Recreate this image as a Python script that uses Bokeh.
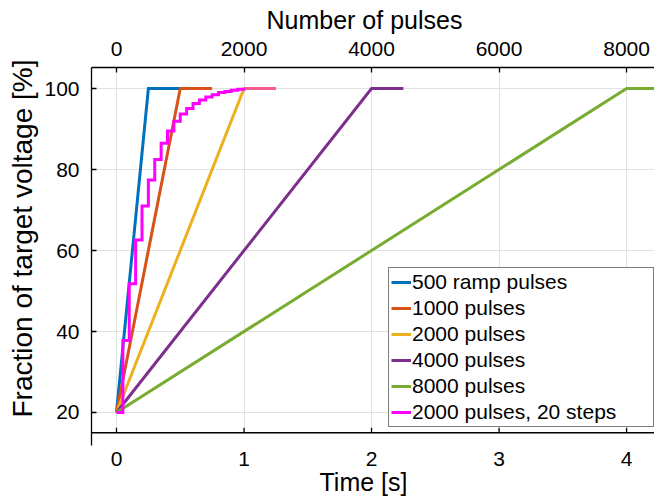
from bokeh.embed import file_html
from bokeh.models import (BoxAnnotation, FixedTicker, Legend, LegendItem,
                          LinearAxis, Range1d, Span, Title)
from bokeh.plotting import figure
from bokeh.resources import INLINE

# --- data -------------------------------------------------------------------
pulses_per_second = 2000

# linear ramps from 20 % to 100 %, then a 0.25 s hold at the target
t_500 = [0.0, 0.25, 0.50]
v_500 = [20, 100, 100]
t_1000 = [0.0, 0.50, 0.75]
v_1000 = [20, 100, 100]
t_2000 = [0.0, 1.00, 1.25]
v_2000 = [20, 100, 100]
t_4000 = [0.0, 2.00, 2.25]
v_4000 = [20, 100, 100]
t_8000 = [0.0, 4.00, 4.25]
v_8000 = [20, 100, 100]

# 2000 pulses delivered in 20 voltage steps
step_t = [0.00, 0.05, 0.10, 0.15, 0.20, 0.25, 0.30, 0.35, 0.40, 0.45, 0.50,
          0.55, 0.60, 0.65, 0.70, 0.75, 0.80, 0.85, 0.90, 0.95, 1.00]
step_v = [20, 37.8, 51.8, 62.6, 71.0, 77.4, 82.5, 86.5, 89.5, 91.9, 93.7,
          95.1, 96.3, 97.2, 97.9, 98.5, 99.0, 99.3, 99.6, 99.8, 100]
step_hold_t = [1.00, 1.25]
step_hold_v = [100, 100]

labels = ["500 ramp pulses", "1000 pulses", "2000 pulses", "4000 pulses",
          "8000 pulses", "2000 pulses, 20 steps"]
colors = ["#0072BD", "#D95319", "#EDB120", "#7E2F8E", "#77AC30", "#FF00FF"]

time_ticks = [0, 1, 2, 3, 4]
pulse_ticks = [0, 2000, 4000, 6000, 8000]
level_ticks = [20, 40, 60, 80, 100]

FONT = "Liberation Sans"
x_lo, x_hi = -0.196, 4.219
y_lo, y_hi = 11.85, 105.2
x_axis_level = 15

# --- figure -----------------------------------------------------------------
p = figure(width=654, height=502, output_backend="svg", toolbar_location=None,
           x_range=Range1d(x_lo, x_hi), y_range=Range1d(y_lo, y_hi),
           min_border_left=90, min_border_right=0, min_border_top=67,
           min_border_bottom=57)
p.outline_line_color = None
p.background_fill_color = "white"
p.border_fill_color = "white"

bottom = p.xaxis[0]
left = p.yaxis[0]

p.extra_x_ranges = {"pulses": Range1d(x_lo * pulses_per_second,
                                      x_hi * pulses_per_second)}
top_axis = LinearAxis(x_range_name="pulses")
p.add_layout(top_axis, "above")

for ax in (left, top_axis):
    ax.major_tick_in = 5
    ax.major_tick_out = 0
    ax.minor_tick_line_color = None
    ax.axis_line_width = 1.3
    ax.axis_line_color = "black"
    ax.major_tick_line_color = "black"
    ax.major_tick_line_width = 1.3
    ax.major_label_standoff = 12

left.ticker = FixedTicker(ticks=level_ticks)
top_axis.ticker = FixedTicker(ticks=pulse_ticks)

bottom.ticker = FixedTicker(ticks=time_ticks)
bottom.axis_line_color = None
bottom.major_tick_line_color = None
bottom.minor_tick_line_color = None
bottom.major_label_standoff = 0

for ax in (left, top_axis, bottom):
    ax.major_label_text_font = FONT
    ax.major_label_text_font_size = "21px"
    ax.major_label_text_color = "black"

p.xgrid.ticker = FixedTicker(ticks=time_ticks)
p.ygrid.ticker = FixedTicker(ticks=level_ticks)
for g in (p.xgrid[0], p.ygrid[0]):
    g.grid_line_color = "#e2e2e2"
    g.grid_line_width = 1

# the time axis sits a little above the bottom of the frame
p.add_layout(BoxAnnotation(top=x_axis_level, fill_color="white", fill_alpha=1,
                           line_color=None, level="underlay"))
p.add_layout(Span(location=x_axis_level, dimension="width", line_color="black",
                  line_width=1.3))
p.segment(x0=time_ticks, y0=[x_axis_level] * len(time_ticks),
          x1=time_ticks, y1=[x_axis_level + 1.25] * len(time_ticks),
          line_color="black", line_width=1.3)

# --- series -----------------------------------------------------------------
series = [(t_500, v_500), (t_1000, v_1000), (t_2000, v_2000),
          (t_4000, v_4000), (t_8000, v_8000)]
renderers = []
for (t, v), c in zip(series, colors[:5]):
    renderers.append(p.line(t, v, line_color=c, line_width=3,
                            line_join="miter"))

renderers.append(p.step(step_t, step_v, mode="after", line_color=colors[5],
                        line_width=3, line_join="miter"))
p.line(step_hold_t, step_hold_v, line_color=colors[5], line_width=3,
       line_alpha=0.5)

legend = Legend(items=[LegendItem(label=l, renderers=[r])
                       for l, r in zip(labels, renderers)],
                location=(297, 18))
legend.label_text_font = FONT
legend.label_text_font_size = "21px"
legend.label_text_color = "black"
legend.glyph_width = 20
legend.glyph_height = 22
legend.label_height = 22
legend.label_standoff = 1
legend.label_width = 239
legend.spacing = 2
legend.padding = 2
legend.margin = 0
legend.border_line_color = "black"
legend.border_line_width = 1
legend.background_fill_color = "white"
legend.background_fill_alpha = 1
p.add_layout(legend)

# --- axis titles --------------------------------------------------------------
def axis_title(text, offset, standoff, size="25px", valign="bottom"):
    return Title(text=text, align="left", offset=offset, standoff=standoff,
                 vertical_align=valign, text_font=FONT, text_font_size=size,
                 text_font_style="normal", text_color="black")

p.title.visible = False
p.add_layout(axis_title("Number of pulses", 175, 6, valign="top"), "above")
p.add_layout(axis_title("Time [s]", 228, -6), "below")
p.add_layout(axis_title("Fraction of target voltage [%]", 28, 8, "28px"),
             "left")

open("out.html", "w").write(file_html(p, INLINE))
